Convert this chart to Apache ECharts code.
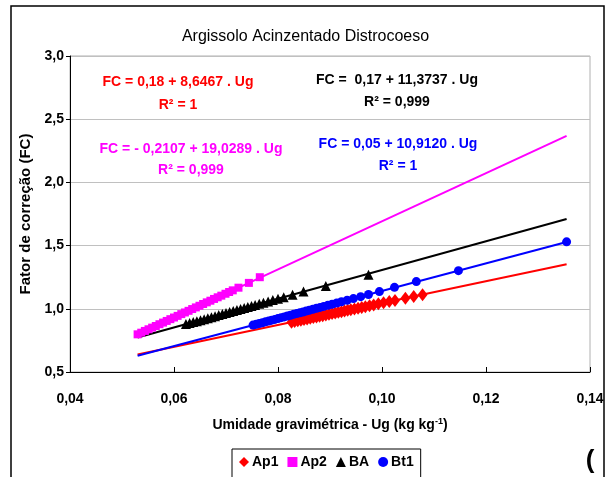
<!DOCTYPE html>
<html>
<head>
<meta charset="utf-8">
<script src="https://cdn.jsdelivr.net/npm/echarts@6/dist/echarts.min.js"></script>
<style>
html,body{margin:0;padding:0;background:#fff;}
#chart{width:611px;height:477px;}
</style>
</head>
<body>
<div id="chart"></div>
<script>
// ---- data ----
var seriesNames = ['Ap1', 'Ap2', 'BA', 'Bt1'];

var ap1Ug = [0.0826,0.0832,0.0838,0.0844,0.0850,0.0856,0.0862,0.0868,0.0874,0.0880,0.0886,0.0892,0.0898,0.0904,0.0910,0.0916,0.0922,0.0928,0.0934,0.0940,0.0947,0.0954,0.0961,0.0968,0.0976,0.0984,0.0993,0.1003,0.1014,0.1025,0.1045,0.1061,0.1078];
var ap1FC = [0.894,0.899,0.905,0.910,0.915,0.920,0.925,0.931,0.936,0.941,0.946,0.951,0.956,0.962,0.967,0.972,0.977,0.982,0.988,0.993,0.999,1.005,1.011,1.017,1.024,1.031,1.039,1.047,1.057,1.066,1.084,1.097,1.112];

var ap2Ug = [0.0530,0.0537,0.0544,0.0551,0.0558,0.0565,0.0572,0.0579,0.0586,0.0593,0.0600,0.0607,0.0614,0.0621,0.0628,0.0635,0.0642,0.0649,0.0656,0.0663,0.0670,0.0677,0.0684,0.0691,0.0699,0.0706,0.0713,0.0724,0.0744,0.0765];
var ap2FC = [0.798,0.811,0.825,0.838,0.851,0.864,0.878,0.891,0.904,0.918,0.931,0.944,0.958,0.971,0.984,0.998,1.011,1.024,1.038,1.051,1.064,1.078,1.091,1.104,1.119,1.133,1.146,1.167,1.205,1.250];

var baUg = [0.0623,0.0630,0.0637,0.0644,0.0651,0.0658,0.0665,0.0672,0.0679,0.0686,0.0693,0.0700,0.0707,0.0714,0.0721,0.0728,0.0735,0.0742,0.0749,0.0756,0.0764,0.0772,0.0781,0.0790,0.0800,0.0811,0.0828,0.0849,0.0892,0.0974];
var baFC = [0.879,0.887,0.895,0.902,0.910,0.918,0.926,0.934,0.942,0.950,0.958,0.966,0.974,0.982,0.990,0.998,1.006,1.014,1.022,1.030,1.039,1.048,1.058,1.069,1.080,1.092,1.112,1.136,1.180,1.270];

var bt1Ug = [0.0752,0.0758,0.0764,0.0770,0.0776,0.0782,0.0788,0.0794,0.0800,0.0806,0.0812,0.0818,0.0824,0.0830,0.0836,0.0842,0.0848,0.0854,0.0860,0.0867,0.0874,0.0881,0.0888,0.0896,0.0904,0.0913,0.0922,0.0933,0.0945,0.0959,0.0974,0.0995,0.1024,0.1066,0.1147,0.1355];
var bt1FC = [0.871,0.877,0.884,0.890,0.897,0.903,0.910,0.916,0.923,0.930,0.936,0.943,0.949,0.956,0.962,0.969,0.975,0.982,0.988,0.996,1.004,1.011,1.019,1.028,1.036,1.046,1.056,1.068,1.081,1.096,1.113,1.136,1.170,1.215,1.302,1.530];

// fitted lines: endpoints (Ug) and FC at those endpoints
var fitUg = [0.053, 0.1355];
var ap1Fit = [0.638, 1.352];
var ap2Fit = [0.798, 2.368];
var baFit = [0.773, 1.711];
var bt1Fit = [0.628, 1.529];

var xTicks = [0.04, 0.06, 0.08, 0.10, 0.12, 0.14];
var yTicks = [0.5, 1.0, 1.5, 2.0, 2.5, 3.0];

var equations = [
  {text: 'FC = 0,18 + 8,6467 . Ug', r2: 'R² = 1', color: '#ff0000'},
  {text: 'FC =  0,17 + 11,3737 . Ug', r2: 'R² = 0,999', color: '#000000'},
  {text: 'FC = - 0,2107 + 19,0289 . Ug', r2: 'R² = 0,999', color: '#ff00ff'},
  {text: 'FC = 0,05 + 10,9120 . Ug', r2: 'R² = 1', color: '#0000ff'}
];

// ---- build ----
function pairs(xs, ys){ return xs.map(function(x,i){ return [x, ys[i]]; }); }

var colors = {Ap1:'#ff0000', Ap2:'#ff00ff', BA:'#000000', Bt1:'#0000ff'};
var FONT = 'Liberation Sans, Arial, sans-serif';

function fitLine(name, ys){
  return {
    type:'line', name: name + ' fit', data: pairs(fitUg, ys), symbol:'none',
    lineStyle:{color: colors[name], width:2}, silent:true, z:2, animation:false
  };
}
function scat(name, xs, ys, symbol, size){
  return {
    type:'scatter', name:name, data: pairs(xs, ys), symbol:symbol, symbolSize:size,
    itemStyle:{color: colors[name], opacity:1}, z:3, animation:false
  };
}

var eqPos = [[178,82,105],[397,80,102],[191,149,170],[398,144,166]];
var graphics = [
  {type:'rect', shape:{x:11,y:6,width:593,height:480}, style:{fill:'none', stroke:'#000', lineWidth:1.5}, z:-1}
];
equations.forEach(function(e, i){
  var p = eqPos[i];
  graphics.push({type:'text', x:p[0], y:p[1], style:{text:e.text, fill:e.color, font:'bold 14px ' + FONT, textAlign:'center', textVerticalAlign:'middle'}});
  graphics.push({type:'text', x:p[0], y:p[2], style:{text:e.r2, fill:e.color, font:'bold 14px ' + FONT, textAlign:'center', textVerticalAlign:'middle'}});
});
graphics.push({type:'text', x:590, y:461, style:{text:'(', fill:'#000', font:'bold 26px ' + FONT, textAlign:'center', textVerticalAlign:'middle'}});

var chart = echarts.init(document.getElementById('chart'), null, {renderer:'canvas'});
chart.setOption({
  animation:false,
  backgroundColor:'#fff',
  title:{text:'Argissolo Acinzentado Distrocoeso', left:'center', top:24,
    textStyle:{fontFamily:FONT, fontSize:16, fontWeight:'normal', color:'#000'}},
  grid:{left:70, top:56, width:520, height:316, show:true, borderColor:'#b0b0b0', borderWidth:1, containLabel:false},
  xAxis:{
    type:'value', min:xTicks[0], max:xTicks[xTicks.length-1], interval:0.02,
    name:'{a|Umidade gravimétrica - Ug (kg kg}{s|-1}{a|)}', nameLocation:'middle', nameGap:45,
    nameTextStyle:{rich:{a:{fontFamily:FONT, fontSize:14, fontWeight:'bold', color:'#000'}, s:{fontFamily:FONT, fontSize:9, fontWeight:'bold', color:'#000', verticalAlign:'top', padding:[0,0,8,0]}}},
    axisLine:{show:true, lineStyle:{color:'#000', width:1}},
    axisTick:{show:true, inside:true, length:5, lineStyle:{color:'#000'}},
    splitLine:{show:false},
    axisLabel:{margin:20, fontFamily:FONT, fontSize:14, fontWeight:'bold', color:'#000',
      formatter:function(v){ return v.toFixed(2).replace('.', ','); }}
  },
  yAxis:{
    type:'value', min:yTicks[0], max:yTicks[yTicks.length-1], interval:0.5,
    name:'Fator de correção (FC)', nameLocation:'middle', nameGap:34,
    nameTextStyle:{fontFamily:FONT, fontSize:15, fontWeight:'bold', color:'#000'},
    axisLine:{show:true, lineStyle:{color:'#000', width:1}},
    axisTick:{show:true, length:4, lineStyle:{color:'#000'}},
    splitLine:{show:true, lineStyle:{color:'#c0c0c0', width:1}},
    axisLabel:{margin:6, fontFamily:FONT, fontSize:14, fontWeight:'bold', color:'#000',
      formatter:function(v){ return v.toFixed(1).replace('.', ','); }}
  },
  legend:{
    data: seriesNames, left:232, top:449, orient:'horizontal',
    borderColor:'#000', borderWidth:1, padding:[6,7,10,7], itemGap:9,
    itemWidth:10, itemHeight:10,
    textStyle:{fontFamily:FONT, fontSize:14, fontWeight:'bold', color:'#000', padding:[0,0,0,-2]}
  },
  graphic: graphics,
  series:[
    fitLine('Ap1', ap1Fit), fitLine('Ap2', ap2Fit), fitLine('BA', baFit), fitLine('Bt1', bt1Fit),
    scat('Ap1', ap1Ug, ap1FC, 'diamond', [10,13]),
    scat('Ap2', ap2Ug, ap2FC, 'rect', 8),
    scat('BA', baUg, baFC, 'triangle', 10),
    scat('Bt1', bt1Ug, bt1FC, 'circle', 9)
  ]
});
</script>
</body>
</html>
